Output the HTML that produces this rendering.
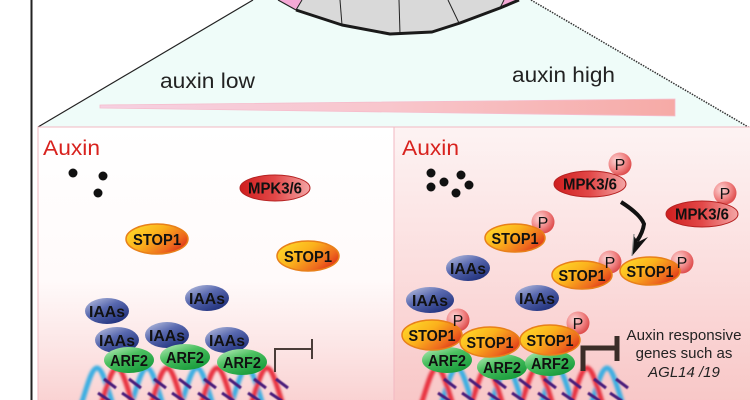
<!DOCTYPE html>
<html><head><meta charset="utf-8"><style>html,body{margin:0;padding:0;background:#fff}svg{display:block}</style></head>
<body>
<svg width="750" height="400" viewBox="0 0 750 400" xmlns="http://www.w3.org/2000/svg" font-family="Liberation Sans, Arial, sans-serif">
<defs>
  <linearGradient id="bar" x1="0" y1="0" x2="1" y2="0">
    <stop offset="0" stop-color="#f6d0e2"/><stop offset="0.5" stop-color="#f8c6cc"/><stop offset="1" stop-color="#f6aaa6"/>
  </linearGradient>
  <linearGradient id="lp" x1="0" y1="0" x2="0" y2="1">
    <stop offset="0" stop-color="#ffffff"/><stop offset="0.55" stop-color="#fffafa"/><stop offset="0.8" stop-color="#fce4e4"/><stop offset="1" stop-color="#f9d0d0"/>
  </linearGradient>
  <linearGradient id="rp" x1="0" y1="0" x2="0" y2="1">
    <stop offset="0" stop-color="#fdf3f3"/><stop offset="0.5" stop-color="#fbdede"/><stop offset="1" stop-color="#f8c6c6"/>
  </linearGradient>
  <linearGradient id="stop" x1="0" y1="0" x2="1" y2="0.6">
    <stop offset="0" stop-color="#ffe22c"/><stop offset="0.5" stop-color="#fbb01c"/><stop offset="0.85" stop-color="#ee6a1e"/><stop offset="1" stop-color="#e2401a"/>
  </linearGradient>
  <linearGradient id="mpk" x1="0" y1="0" x2="1" y2="0">
    <stop offset="0" stop-color="#cf1e1e"/><stop offset="0.5" stop-color="#e24848"/><stop offset="1" stop-color="#f4a6a6"/>
  </linearGradient>
  <linearGradient id="iaa" x1="0" y1="0" x2="0.8" y2="1">
    <stop offset="0" stop-color="#c2c8e4"/><stop offset="0.45" stop-color="#5a6ab0"/><stop offset="1" stop-color="#1c2c78"/>
  </linearGradient>
  <linearGradient id="arf" x1="0" y1="0" x2="0.7" y2="1">
    <stop offset="0" stop-color="#c4f0c4"/><stop offset="0.45" stop-color="#4cc060"/><stop offset="1" stop-color="#169a3a"/>
  </linearGradient>
  <radialGradient id="pg" cx="0.35" cy="0.35" r="0.7">
    <stop offset="0" stop-color="#fcd6d6"/><stop offset="0.6" stop-color="#f08484"/><stop offset="1" stop-color="#dc4848"/>
  </radialGradient>
  <filter id="blur" x="-5%" y="-20%" width="110%" height="140%"><feGaussianBlur stdDeviation="1.2"/></filter>
  <filter id="blur2" x="-10%" y="-20%" width="120%" height="140%"><feGaussianBlur stdDeviation="0.5"/></filter>
</defs>

<rect width="750" height="400" fill="#fff"/>

<!-- zoom triangle -->
<polygon points="253,0 531,0 750,128 38,128" fill="#effcf9"/>
<line x1="38" y1="127" x2="253" y2="0" stroke="#222" stroke-width="1.2"/>
<line x1="531" y1="0" x2="750" y2="128" stroke="#333" stroke-width="1.5" stroke-dasharray="1.5,1.2"/>

<!-- root cap -->
<polygon points="302,0 296,10 342,25 390,34 432,32 460,23 500,8 504,0" fill="#d9d9d9"/>
<polygon points="279,0 296,10 302,0" fill="#f5a9d6"/>
<polygon points="504,0 500,8 519,0" fill="#f5a9d6"/>
<line x1="278" y1="0" x2="296" y2="10" stroke="#222" stroke-width="1.2"/>
<line x1="296" y1="10" x2="302" y2="0" stroke="#222" stroke-width="1"/>
<line x1="500" y1="8" x2="504" y2="0" stroke="#222" stroke-width="1"/>
<line x1="340" y1="0" x2="342" y2="25" stroke="#222" stroke-width="1"/>
<line x1="399" y1="0" x2="400" y2="34" stroke="#222" stroke-width="1"/>
<line x1="448" y1="0" x2="459" y2="23" stroke="#222" stroke-width="1"/>
<polyline points="296,10 342,25 390,34 432,32 460,23 500,8 519,0" fill="none" stroke="#1a1a1a" stroke-width="3" stroke-linejoin="round"/>

<!-- left vertical line -->
<line x1="31.5" y1="0" x2="31.5" y2="400" stroke="#222" stroke-width="2"/>

<!-- labels top -->
<text x="160" y="88" font-size="21" fill="#222" textLength="95" lengthAdjust="spacingAndGlyphs">auxin low</text>
<text x="512" y="82" font-size="21" fill="#222" textLength="103" lengthAdjust="spacingAndGlyphs">auxin high</text>

<!-- gradient wedge -->
<polygon points="100,105 675,99 675,116 100,108" fill="url(#bar)" stroke="#f6bccc" stroke-width="0.8"/>

<!-- panels -->
<rect x="38" y="127" width="356" height="280" fill="url(#lp)" stroke="#f2b8c2" stroke-width="1"/>
<rect x="394" y="127" width="360" height="280" fill="url(#rp)" stroke="#f2b8c2" stroke-width="1"/>

<text x="43" y="155" font-size="21" fill="#d8221e" textLength="57" lengthAdjust="spacingAndGlyphs">Auxin</text>
<text x="402" y="155" font-size="21" fill="#d8221e" textLength="57" lengthAdjust="spacingAndGlyphs">Auxin</text>

<!-- DNA -->
<g filter="url(#blur)" fill="none" stroke-width="5">
  <path d="M72,420 C81,420 88,368 97,368 S113,420 122,420 S138,368 147,368 S163,420 172,420 S188,368 197,368 S213,420 222,420 S238,368 247,368 S263,420 272,420" stroke="#3aaee2"/>
  <path d="M92,420 C101,420 108,368 117,368 S133,420 142,420 S158,368 167,368 S183,420 192,420 S208,368 217,368 S233,420 242,420 S258,368 267,368 S283,420 292,420" stroke="#e8323f"/>
  <path d="M432,420 C441,420 448,368 457,368 S473,420 482,420 S498,368 507,368 S523,420 532,420 S548,368 557,368 S573,420 582,420 S598,368 607,368 S623,420 632,420" stroke="#3aaee2"/>
  <path d="M412,420 C421,420 428,368 437,368 S453,420 462,420 S478,368 487,368 S503,420 512,420 S528,368 537,368 S553,420 562,420 S578,368 587,368 S603,420 612,420" stroke="#e8323f"/>
</g>
<g stroke="#4a1a7a" stroke-width="3" filter="url(#blur2)">
  <line x1="104" y1="379" x2="116" y2="388"/><line x1="129" y1="379" x2="141" y2="388"/><line x1="154" y1="379" x2="166" y2="388"/><line x1="179" y1="379" x2="191" y2="388"/>
  <line x1="204" y1="379" x2="216" y2="388"/><line x1="229" y1="379" x2="241" y2="388"/><line x1="254" y1="379" x2="266" y2="388"/><line x1="276" y1="379" x2="288" y2="388"/>
  <line x1="98" y1="393" x2="110" y2="401"/><line x1="122" y1="393" x2="134" y2="401"/><line x1="148" y1="393" x2="160" y2="401"/><line x1="172" y1="393" x2="184" y2="401"/>
  <line x1="198" y1="393" x2="210" y2="401"/><line x1="222" y1="393" x2="234" y2="401"/><line x1="248" y1="393" x2="260" y2="401"/><line x1="270" y1="393" x2="282" y2="401"/>
  <line x1="444" y1="379" x2="456" y2="388"/><line x1="469" y1="379" x2="481" y2="388"/><line x1="494" y1="379" x2="506" y2="388"/><line x1="519" y1="379" x2="531" y2="388"/>
  <line x1="544" y1="379" x2="556" y2="388"/><line x1="569" y1="379" x2="581" y2="388"/><line x1="594" y1="379" x2="606" y2="388"/><line x1="616" y1="379" x2="628" y2="388"/>
  <line x1="438" y1="393" x2="450" y2="401"/><line x1="462" y1="393" x2="474" y2="401"/><line x1="488" y1="393" x2="500" y2="401"/><line x1="512" y1="393" x2="524" y2="401"/>
  <line x1="538" y1="393" x2="550" y2="401"/><line x1="562" y1="393" x2="574" y2="401"/><line x1="588" y1="393" x2="600" y2="401"/><line x1="610" y1="393" x2="622" y2="401"/>
</g>

<!-- LEFT PANEL -->
<g fill="#111">
  <circle cx="73" cy="173" r="4.5"/><circle cx="103" cy="176" r="4.5"/><circle cx="98" cy="193" r="4.5"/>
</g>
<g font-weight="bold" font-size="16" text-anchor="middle" fill="#111">
  <ellipse cx="275" cy="188" rx="35" ry="13" fill="url(#mpk)" stroke="#b52222" stroke-width="1"/>
  <text x="275" y="193.5" textLength="54" lengthAdjust="spacingAndGlyphs">MPK3/6</text>

  <ellipse cx="157" cy="239" rx="31" ry="15" fill="url(#stop)" stroke="#e8801a" stroke-width="1.5"/>
  <text x="157" y="245" textLength="48" lengthAdjust="spacingAndGlyphs">STOP1</text>
  <ellipse cx="308" cy="256" rx="31" ry="15" fill="url(#stop)" stroke="#e8801a" stroke-width="1.5"/>
  <text x="308" y="262" textLength="48" lengthAdjust="spacingAndGlyphs">STOP1</text>

  <ellipse cx="107" cy="311" rx="22" ry="13" fill="url(#iaa)"/><text x="107" y="317" textLength="36" lengthAdjust="spacingAndGlyphs">IAAs</text>
  <ellipse cx="207" cy="298" rx="22" ry="13" fill="url(#iaa)"/><text x="207" y="304" textLength="36" lengthAdjust="spacingAndGlyphs">IAAs</text>
  <ellipse cx="117" cy="340" rx="22" ry="13" fill="url(#iaa)"/><text x="117" y="346" textLength="36" lengthAdjust="spacingAndGlyphs">IAAs</text>
  <ellipse cx="167" cy="335" rx="22" ry="13" fill="url(#iaa)"/><text x="167" y="341" textLength="36" lengthAdjust="spacingAndGlyphs">IAAs</text>
  <ellipse cx="227" cy="340" rx="22" ry="13" fill="url(#iaa)"/><text x="227" y="346" textLength="36" lengthAdjust="spacingAndGlyphs">IAAs</text>

  <ellipse cx="129" cy="360" rx="25" ry="13" fill="url(#arf)"/><text x="129" y="366" textLength="38" lengthAdjust="spacingAndGlyphs">ARF2</text>
  <ellipse cx="185" cy="357" rx="25" ry="13" fill="url(#arf)"/><text x="185" y="363" textLength="38" lengthAdjust="spacingAndGlyphs">ARF2</text>
  <ellipse cx="242" cy="362" rx="25" ry="13" fill="url(#arf)"/><text x="242" y="368" textLength="38" lengthAdjust="spacingAndGlyphs">ARF2</text>
</g>
<polyline points="275,372 275,349 312,349" fill="none" stroke="#4a3c38" stroke-width="2"/>
<line x1="312" y1="339" x2="312" y2="359" stroke="#4a3c38" stroke-width="2"/>

<!-- RIGHT PANEL -->
<g fill="#111">
  <circle cx="431" cy="173" r="4.5"/><circle cx="431" cy="187" r="4.5"/><circle cx="444" cy="182" r="4.5"/>
  <circle cx="461" cy="175" r="4.5"/><circle cx="469" cy="185" r="4.5"/><circle cx="456" cy="193" r="4.5"/>
</g>

<!-- arrow -->
<path d="M621,202 Q640,214 644,224 Q643,232 637,241" fill="none" stroke="#111" stroke-width="4"/>
<polygon points="632,256 648,237 638,242 634,236" fill="#111"/>
<line x1="632" y1="256" x2="634" y2="234" stroke="#888" stroke-width="1.2"/>

<g font-weight="bold" font-size="16" text-anchor="middle" fill="#111">
  <circle cx="620" cy="164" r="11.5" fill="url(#pg)"/>
  <ellipse cx="590" cy="184" rx="36" ry="13" fill="url(#mpk)" stroke="#b52222" stroke-width="1"/>
  <text x="590" y="189.5" textLength="54" lengthAdjust="spacingAndGlyphs">MPK3/6</text>
  <circle cx="725" cy="193" r="11.5" fill="url(#pg)"/>
  <ellipse cx="702" cy="214" rx="36" ry="13" fill="url(#mpk)" stroke="#b52222" stroke-width="1"/>
  <text x="702" y="219.5" textLength="54" lengthAdjust="spacingAndGlyphs">MPK3/6</text>

  <circle cx="543" cy="222" r="11.5" fill="url(#pg)"/>
  <ellipse cx="515" cy="238" rx="30" ry="14" fill="url(#stop)" stroke="#e8801a" stroke-width="1.5"/>
  <text x="515" y="244" textLength="47" lengthAdjust="spacingAndGlyphs">STOP1</text>

  <ellipse cx="468" cy="268" rx="22" ry="13" fill="url(#iaa)"/><text x="468" y="274" textLength="36" lengthAdjust="spacingAndGlyphs">IAAs</text>

  <circle cx="610" cy="262" r="11.5" fill="url(#pg)"/>
  <ellipse cx="582" cy="275" rx="30" ry="14" fill="url(#stop)" stroke="#e8801a" stroke-width="1.5"/>
  <text x="582" y="281" textLength="47" lengthAdjust="spacingAndGlyphs">STOP1</text>
  <circle cx="682" cy="262" r="11.5" fill="url(#pg)"/>
  <ellipse cx="650" cy="271" rx="30" ry="14" fill="url(#stop)" stroke="#e8801a" stroke-width="1.5"/>
  <text x="650" y="277" textLength="47" lengthAdjust="spacingAndGlyphs">STOP1</text>

  <ellipse cx="430" cy="300" rx="24" ry="13" fill="url(#iaa)"/><text x="430" y="306" textLength="36" lengthAdjust="spacingAndGlyphs">IAAs</text>
  <ellipse cx="537" cy="298" rx="22" ry="13" fill="url(#iaa)"/><text x="537" y="304" textLength="36" lengthAdjust="spacingAndGlyphs">IAAs</text>

  <ellipse cx="447" cy="360" rx="25" ry="13" fill="url(#arf)"/><text x="447" y="366" textLength="38" lengthAdjust="spacingAndGlyphs">ARF2</text>
  <ellipse cx="502" cy="367" rx="25" ry="13" fill="url(#arf)"/><text x="502" y="373" textLength="38" lengthAdjust="spacingAndGlyphs">ARF2</text>
  <ellipse cx="550" cy="363" rx="25" ry="13" fill="url(#arf)"/><text x="550" y="369" textLength="38" lengthAdjust="spacingAndGlyphs">ARF2</text>

  <circle cx="458" cy="320" r="11.5" fill="url(#pg)"/>
  <ellipse cx="432" cy="335" rx="30" ry="15" fill="url(#stop)" stroke="#e8801a" stroke-width="1.5"/>
  <text x="432" y="341" textLength="47" lengthAdjust="spacingAndGlyphs">STOP1</text>
  <ellipse cx="490" cy="342" rx="30" ry="15" fill="url(#stop)" stroke="#e8801a" stroke-width="1.5"/>
  <text x="490" y="348" textLength="47" lengthAdjust="spacingAndGlyphs">STOP1</text>
  <circle cx="578" cy="323" r="11.5" fill="url(#pg)"/>
  <ellipse cx="550" cy="340" rx="30" ry="15" fill="url(#stop)" stroke="#e8801a" stroke-width="1.5"/>
  <text x="550" y="346" textLength="47" lengthAdjust="spacingAndGlyphs">STOP1</text>
</g>
<g font-size="16" text-anchor="middle" fill="#111">
  <text x="620" y="170">P</text><text x="725" y="199">P</text><text x="543" y="228">P</text>
  <text x="610" y="268">P</text><text x="682" y="268">P</text><text x="458" y="326">P</text><text x="578" y="329">P</text>
</g>

<polyline points="583,371 583,348 617,348" fill="none" stroke="#3a2d28" stroke-width="5"/>
<line x1="617" y1="336" x2="617" y2="361" stroke="#3a2d28" stroke-width="5"/>

<g font-size="15" text-anchor="middle" fill="#222">
  <text x="684" y="340" textLength="115" lengthAdjust="spacingAndGlyphs">Auxin responsive</text>
  <text x="684" y="358">genes such as</text>
  <text x="684" y="377" font-style="italic">AGL14 /19</text>
</g>
</svg>
</body></html>
